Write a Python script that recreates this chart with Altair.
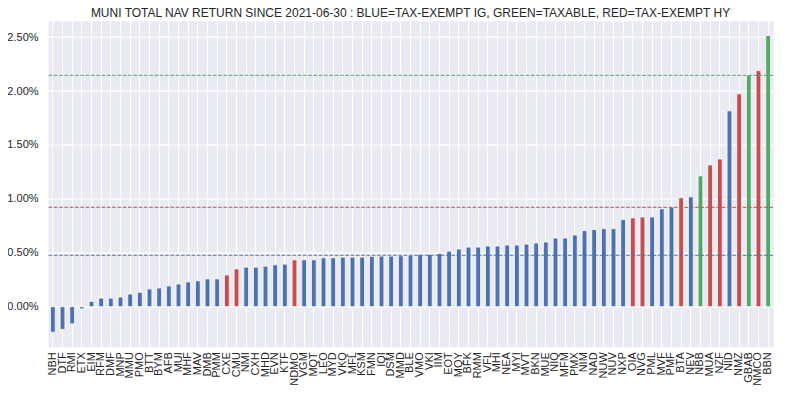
import altair as alt
import pandas as pd

tickers = ["NBH", "DTF", "RMI", "ETX", "EIM", "RFM", "DMF", "MNP", "MMU", "PMO",
           "BTT", "BYM", "AFB", "MUI", "MHF", "MAV", "DMB", "PMM", "CXE", "CMU",
           "NMI", "CXH", "MHD", "EVN", "KTF", "NDMO", "VGM", "MQT", "LEO", "MYD",
           "VKQ", "MFL", "KSM", "FMN", "IQI", "DSM", "MMD", "BLE", "VMO", "VKI",
           "IIM", "EOT", "MQY", "BFK", "RMM", "VFL", "MHI", "NEA", "MYI", "MVT",
           "BKN", "MUE", "NIQ", "MFM", "PMX", "NIM", "NAD", "NUW", "NUV", "NXP",
           "OIA", "NVG", "PML", "MVF", "PMF", "BTA", "NEV", "NBB", "MUA", "NZF",
           "NID", "NMZ", "GBAB", "NMCO", "BBN"]

returns_pct = [-0.237, -0.21, -0.16, -0.02, 0.05, 0.08, 0.08, 0.09, 0.118, 0.134,
               0.165, 0.174, 0.193, 0.211, 0.23, 0.24, 0.258, 0.258, 0.295, 0.351,
               0.367, 0.367, 0.376, 0.389, 0.395, 0.435, 0.435, 0.435, 0.454, 0.454,
               0.46, 0.46, 0.46, 0.467, 0.47, 0.47, 0.473, 0.476, 0.485, 0.485,
               0.494, 0.516, 0.535, 0.553, 0.553, 0.563, 0.563, 0.572, 0.572, 0.581,
               0.591, 0.60, 0.637, 0.637, 0.665, 0.706, 0.715, 0.724, 0.724, 0.808,
               0.824, 0.833, 0.833, 0.908, 0.923, 1.011, 1.02, 1.214, 1.315, 1.37,
               1.817, 1.975, 2.147, 2.19, 2.515]

groups = ["B"] * 18 + ["R", "R"] + ["B"] * 5 + ["R"] + ["B"] * 34 + \
         ["R", "R", "B", "B", "B", "R", "B", "G", "R", "R", "B", "R", "G", "R", "G"]

ref_groups = ["B", "R", "G"]
ref_values = [0.477, 0.922, 2.146]

palette_keys = ["B", "G", "R"]
palette_colors = ["#4C72B0", "#55A868", "#C44E52"]

y_ticks = [0.0, 0.5, 1.0, 1.5, 2.0, 2.5]
y_domain = [-0.371, 2.653]

df = pd.DataFrame({"ticker": tickers, "ret": returns_pct, "grp": groups})
ref = pd.DataFrame({"grp": ref_groups, "v": ref_values})

color_scale = alt.Scale(domain=palette_keys, range=palette_colors)
y_scale = alt.Scale(domain=y_domain, nice=False, zero=False)

bars = alt.Chart(df).mark_bar(stroke="white", strokeWidth=0.8).encode(
    x=alt.X("ticker:N", sort=tickers,
            scale=alt.Scale(paddingInner=0.5, paddingOuter=0.25),
            axis=alt.Axis(title=None, labelAngle=270, labelAlign="right",
                          labelBaseline="middle", labelPadding=5, ticks=False,
                          domain=False, grid=True, bandPosition=0.5,
                          gridColor="white", gridWidth=1, labelFontSize=11,
                          labelColor="#262626", labelFont="Liberation Sans")),
    y=alt.Y("ret:Q", scale=y_scale,
            axis=alt.Axis(title=None, values=y_ticks, ticks=False, domain=False,
                          grid=True, gridColor="white", gridWidth=1.2,
                          labelExpr="format(datum.value, '.2f') + '%'",
                          labelPadding=10, labelFontSize=11, labelColor="#262626",
                          labelFont="Liberation Sans")),
    color=alt.Color("grp:N", scale=color_scale, legend=None),
)

rules = alt.Chart(ref).mark_rule(strokeDash=[3.7, 1.6], strokeWidth=1).encode(
    y=alt.Y("v:Q", scale=y_scale),
    color=alt.Color("grp:N", scale=color_scale, legend=None),
)

chart = alt.layer(bars, rules).properties(
    width=725,
    height=326,
    autosize="none",
    padding={"left": 40, "top": 12.7, "right": 5, "bottom": 45},
    title=alt.TitleParams(
        "MUNI TOTAL NAV RETURN SINCE 2021-06-30 : BLUE=TAX-EXEMPT IG, GREEN=TAXABLE, RED=TAX-EXEMPT HY",
        fontSize=12, fontWeight="normal", color="#262626", font="Liberation Sans",
        anchor="middle", offset=1),
).configure_view(fill="#EAEAF2", stroke="transparent")

chart.save("out.html", embed_options={"renderer": "svg", "actions": False})
